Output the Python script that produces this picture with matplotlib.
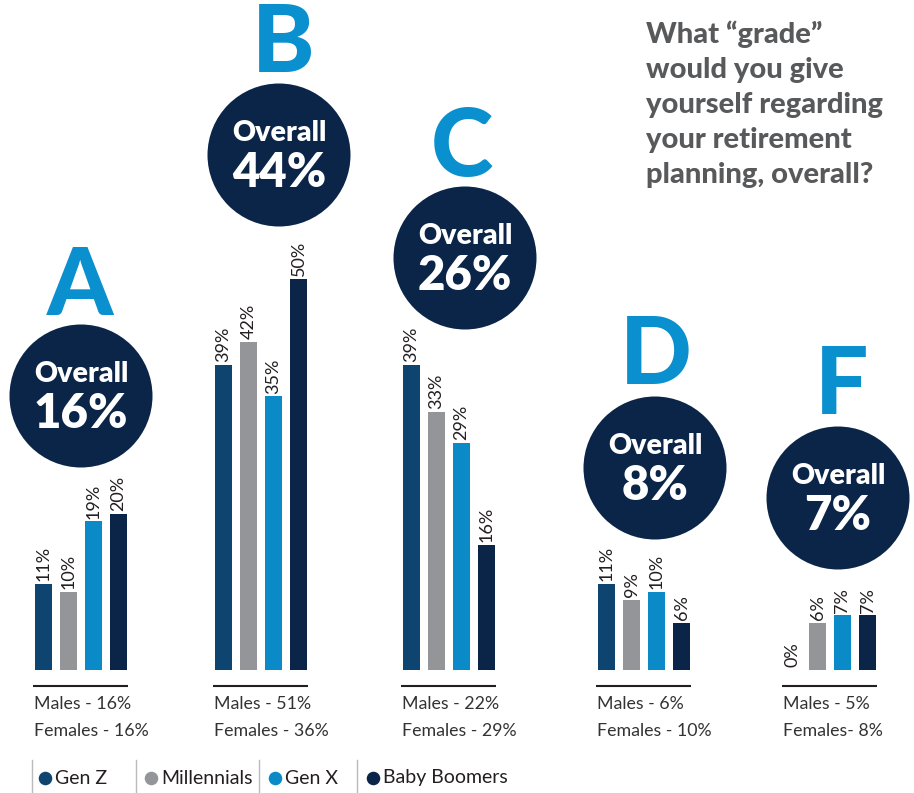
import matplotlib
matplotlib.use("Agg")
import matplotlib.pyplot as plt
from matplotlib.patches import Ellipse

# ---- data ----
grades = ['A', 'B', 'C', 'D', 'F']
overall = [16, 44, 26, 8, 7]
series_names = ['Gen Z', 'Millennials', 'Gen X', 'Baby Boomers']
gen_z = [11, 39, 39, 11, 0]
millennials = [10, 42, 33, 9, 6]
gen_x = [19, 35, 29, 10, 7]
boomers = [20, 50, 16, 6, 7]
males = [16, 51, 22, 6, 5]
females = [16, 36, 29, 10, 8]
male_labels = [f'Males - {m}%' for m in males]
female_labels = ['Females - 16%', 'Females - 36%', 'Females - 29%', 'Females - 10%', 'Females- 8%']
title = 'What \u201cgrade\u201d\nwould you give\nyourself regarding\nyour retirement\nplanning, overall?'

# ---- style / layout ----
colors = ['#0D4470', '#939598', '#0A8BC8', '#0B2548']
letter_color = '#0A90CE'
circle_color = '#0B2548'
W, H = 914, 793
base_px = 670
scale = 7.82  # px per percent
group_left = [35, 215, 403, 598, 784]
pitch = 25
bar_w = 17
circle_c = [(81, 396), (279, 155), (465, 258), (655, 468), (838, 498)]
circle_d = 143
letter_y = [288, 45, 149, 357, 387]
letter_x = [80, 283, 462, 656, 842]

fig = plt.figure(figsize=(W / 100, H / 100), dpi=100)
ax = fig.add_axes([0, 0, 1, 1])
ax.set_xlim(0, W)
ax.set_ylim(-(H - base_px) / scale, base_px / scale)
ax.axis('off')


def py(p):
    return (base_px - p) / scale


FONT = 'Lato'
series = [gen_z, millennials, gen_x, boomers]
for g in range(len(grades)):
    for s, vals in enumerate(series):
        x = group_left[g] + s * pitch + bar_w / 2
        v = vals[g]
        ax.bar(x, v, width=bar_w, color=colors[s], bottom=0)
        ax.text(x, v + 0.35, f'{v}%', rotation=90, ha='center', va='bottom',
                fontsize=13, family=FONT, fontweight='normal', color='#231F20')
    # underline
    x0 = group_left[g] - 2
    x1 = group_left[g] + 3 * pitch + bar_w + 1
    ax.plot([x0, x1], [py(686), py(686)], color='#231F20', lw=1.5, solid_capstyle='butt')
    ax.text(group_left[g] - 1, py(704), male_labels[g], ha='left', va='center',
            fontsize=12.8, family=FONT, color='#333333')
    ax.text(group_left[g] - 1, py(731), female_labels[g], ha='left', va='center',
            fontsize=12.8, family=FONT, color='#333333')
    # circle
    cx, cy = circle_c[g]
    ax.add_patch(Ellipse((cx, py(cy)), circle_d, circle_d / scale, color=circle_color, lw=0))
    ax.text(cx, py(cy - 22), 'Overall', ha='center', va='center', fontsize=20.5,
            family=FONT, fontweight='heavy', color='white')
    ax.text(cx, py(cy + 18), f'{overall[g]}%', ha='center', va='center', fontsize=34,
            family=FONT, fontweight='heavy', color='white')
    # grade letter
    ax.text(letter_x[g], py(letter_y[g]), grades[g], ha='center', va='center', fontsize=68,
            family=FONT, fontweight='black', color=letter_color)

# title
ax.text(646, py(20), title, ha='left', va='top', fontsize=21, family=FONT,
        fontweight='black', color='#58595B', linespacing=1.43)

# legend
sep_x = [32, 136, 259, 357]
dot_x = [45, 151, 275, 373]
for i, name in enumerate(series_names):
    ax.plot([sep_x[i], sep_x[i]], [py(760), py(795)], color='#BBBBBB', lw=1)
    ax.scatter([dot_x[i]], [py(778)], s=95, color=colors[i], lw=0)
    ax.text(dot_x[i] + 10, py(778), name, ha='left', va='center', fontsize=14,
            family=FONT, color='#231F20')

fig.savefig('out.png', dpi=100)
